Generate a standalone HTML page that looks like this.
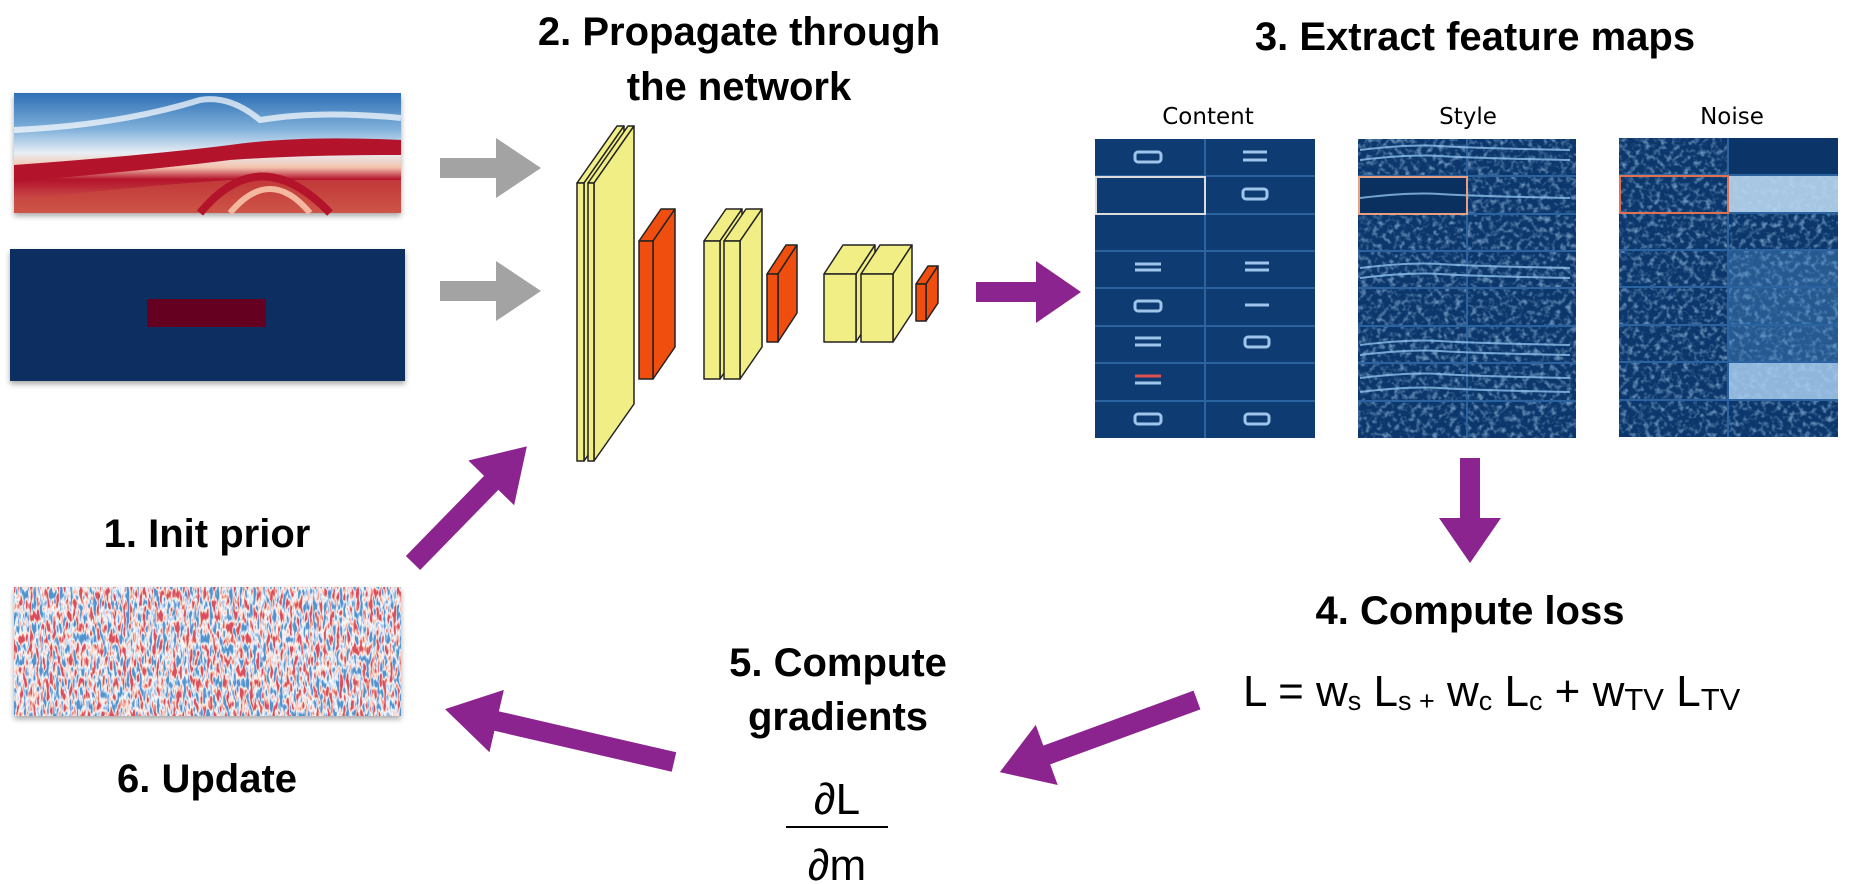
<!DOCTYPE html>
<html><head><meta charset="utf-8"><style>
html,body{margin:0;padding:0;background:#fff;width:1867px;height:884px;overflow:hidden}
svg{display:block}
.t{font-family:"Liberation Sans",sans-serif;font-weight:bold;font-size:40px;fill:#000;text-anchor:middle}
.l{font-family:"DejaVu Sans","Liberation Sans",sans-serif;font-size:23px;fill:#000;text-anchor:middle}
.f{font-family:"Liberation Sans",sans-serif;font-size:44px;fill:#000}
</style></head><body>
<svg width="1867" height="884" viewBox="0 0 1867 884" xmlns="http://www.w3.org/2000/svg">
<defs>
<linearGradient id="seis" x1="0" y1="0" x2="0" y2="1">
<stop offset="0" stop-color="#2e6fb5"/><stop offset="0.3" stop-color="#7fb0da"/><stop offset="0.5" stop-color="#e8eef5"/><stop offset="0.62" stop-color="#f3c2ad"/><stop offset="0.72" stop-color="#b3132b"/><stop offset="1" stop-color="#d9735c"/>
</linearGradient>
<filter id="nz" x="0" y="0" width="100%" height="100%">
<feTurbulence type="fractalNoise" baseFrequency="0.3 0.09" numOctaves="2" seed="3"/>
<feColorMatrix type="matrix" values="3 0 0 0 -1  3 0 0 0 -1  3 0 0 0 -1  0 0 0 0 1"/>
<feComponentTransfer>
<feFuncR type="table" tableValues="0.08 0.45 0.97 0.95 0.7"/>
<feFuncG type="table" tableValues="0.3 0.62 0.97 0.45 0.08"/>
<feFuncB type="table" tableValues="0.62 0.85 0.97 0.35 0.12"/>
</feComponentTransfer>
</filter>
<filter id="bn" x="0" y="0" width="100%" height="100%">
<feTurbulence type="fractalNoise" baseFrequency="0.18" numOctaves="2" seed="7"/>
<feColorMatrix type="matrix" values="0 0 0 0 0.45  0 0 0 0 0.68  0 0 0 0 0.92  3 0 0 0 -1.4"/>
</filter>
<filter id="sh"><feDropShadow dx="0" dy="3" stdDeviation="3" flood-opacity="0.35"/></filter>
</defs>

<text class="t" x="739" y="45">2. Propagate through</text>
<text class="t" x="739" y="100">the network</text>
<text class="t" x="1475" y="50">3. Extract feature maps</text>
<text class="t" x="207" y="547">1. Init prior</text>
<text class="t" x="1470" y="624">4. Compute loss</text>
<text class="t" x="838" y="676">5. Compute</text>
<text class="t" x="838" y="730">gradients</text>
<text class="t" x="207" y="792">6. Update</text>

<rect x="14" y="93" width="387" height="120" fill="url(#seis)" filter="url(#sh)"/>
<path d="M14 165 Q150 155 230 145 Q300 135 401 140 L401 155 Q300 155 230 160 Q150 170 14 182Z" fill="#b3132b"/>
<path d="M14 130 Q120 125 200 100 Q230 95 260 120 Q320 110 401 118" stroke="#fff" stroke-width="6" fill="none" opacity="0.7"/>
<path d="M14 200 Q150 185 230 180 L401 180 L401 213 L14 213Z" fill="#c8483e" opacity="0.7"/>
<path d="M200 213 Q260 140 330 213" stroke="#b3132b" stroke-width="8" fill="none"/>
<path d="M230 213 Q270 165 310 213" stroke="#f4b8a0" stroke-width="6" fill="none"/>

<rect x="10" y="249" width="395" height="132" fill="#0a2f60" filter="url(#sh)"/>
<rect x="147" y="299" width="119" height="28" fill="#650020"/>

<rect x="14" y="587" width="387" height="129" fill="#ddd" filter="url(#sh)"/>
<rect x="14" y="587" width="387" height="129" filter="url(#nz)"/>

<g fill="#a3a3a3">
<polygon transform="translate(440,168)" points="0,-10 56,-10 56,-30 101,0 56,30 56,10 0,10"/>
<polygon transform="translate(440,291)" points="0,-10 56,-10 56,-30 101,0 56,30 56,10 0,10"/>
</g>

<g stroke="#222" stroke-width="1.5" stroke-linejoin="round">
<polygon points="577,183 617,126 624,126 584,183" fill="#f0ee84"/>
<polygon points="584,183 624,126 624,404 584,461" fill="#f0ee84"/>
<rect x="577" y="183" width="7" height="278" fill="#f0ee84"/>
<polygon points="588,183 628,126 634,126 594,183" fill="#f0ee84"/>
<polygon points="594,183 634,126 634,404 594,461" fill="#f0ee84"/>
<rect x="588" y="183" width="6" height="278" fill="#f0ee84"/>
<polygon points="639,241 661,209 675,209 653,241" fill="#f04e0e"/>
<polygon points="653,241 675,209 675,347 653,379" fill="#f04e0e"/>
<rect x="639" y="241" width="14" height="138" fill="#f04e0e"/>
<polygon points="704,241 726,209 742,209 720,241" fill="#f0ee84"/>
<polygon points="720,241 742,209 742,347 720,379" fill="#f0ee84"/>
<rect x="704" y="241" width="16" height="138" fill="#f0ee84"/>
<polygon points="724,241 746,209 762,209 740,241" fill="#f0ee84"/>
<polygon points="740,241 762,209 762,347 740,379" fill="#f0ee84"/>
<rect x="724" y="241" width="16" height="138" fill="#f0ee84"/>
<polygon points="767,274 786,245 797,245 778,274" fill="#f04e0e"/>
<polygon points="778,274 797,245 797,313 778,342" fill="#f04e0e"/>
<rect x="767" y="274" width="11" height="68" fill="#f04e0e"/>
<polygon points="824,274 843,245 875,245 856,274" fill="#f0ee84"/>
<polygon points="856,274 875,245 875,313 856,342" fill="#f0ee84"/>
<rect x="824" y="274" width="32" height="68" fill="#f0ee84"/>
<polygon points="861,274 880,245 912,245 893,274" fill="#f0ee84"/>
<polygon points="893,274 912,245 912,313 893,342" fill="#f0ee84"/>
<rect x="861" y="274" width="32" height="68" fill="#f0ee84"/>
<polygon points="916,284 928,266 938,266 926,284" fill="#f04e0e"/>
<polygon points="926,284 938,266 938,303 926,321" fill="#f04e0e"/>
<rect x="916" y="284" width="10" height="37" fill="#f04e0e"/>
</g>

<text class="l" x="1208" y="124">Content</text>
<text class="l" x="1468" y="124">Style</text>
<text class="l" x="1732" y="124">Noise</text>

<g transform="translate(-5,0)">
<rect x="1100" y="139" width="220" height="299" fill="#0d3b72"/>
<g stroke="#2b62a0" stroke-width="2" fill="none">
<path d="M1210 139V438"/>
<path d="M1100 176H1320M1100 214H1320M1100 251H1320M1100 288H1320M1100 326H1320M1100 363H1320M1100 401H1320"/>
</g>
<g stroke="#9fc5ea" stroke-width="3" fill="none">
<rect x="1140" y="152" width="26" height="10" rx="3"/>
<path d="M1248 152h24M1248 160h24"/>
<rect x="1248" y="189" width="24" height="10" rx="3"/>
<path d="M1140 264h26M1140 270h26M1250 263h24M1250 270h24"/>
<rect x="1140" y="301" width="26" height="10" rx="3"/>
<path d="M1250 305h24M1140 338h26M1140 345h26"/>
<rect x="1250" y="337" width="24" height="10" rx="3"/>
<rect x="1140" y="414" width="26" height="10" rx="3"/>
<rect x="1250" y="414" width="24" height="10" rx="3"/>
</g>
<path d="M1140 376h26" stroke="#e05050" stroke-width="3"/>
<path d="M1140 383h26" stroke="#9fc5ea" stroke-width="3"/>
<rect x="1101" y="177" width="109" height="37" fill="none" stroke="#ddd" stroke-width="2"/>
</g>

<rect x="1358" y="139" width="218" height="299" fill="#0b376c"/>
<rect x="1358" y="139" width="218" height="299" filter="url(#bn)" opacity="0.55"/>
<rect x="1359" y="177" width="108" height="37" fill="#0a3060"/>
<g stroke="#2b62a0" stroke-width="2" fill="none">
<path d="M1467 139V438"/>
<path d="M1358 176H1576M1358 214H1576M1358 251H1576M1358 288H1576M1358 326H1576M1358 363H1576M1358 401H1576"/>
</g>
<g stroke="#8fc0ec" stroke-width="2" fill="none" opacity="0.8">
<path d="M1360 150q50 -6 80 -4t130 4M1360 160q50 -6 80 -4t130 4M1360 198q50 -6 80 -4t130 4M1360 268q50 -6 80 -4t130 4M1360 278q50 -6 80 -4t130 4M1360 345q50 -6 80 -4t130 4M1360 355q50 -6 80 -4t130 4M1360 378q50 -6 80 -4t130 4M1360 392q50 -6 80 -4t130 4"/>
</g>
<rect x="1359" y="177" width="108" height="37" fill="none" stroke="#e8a080" stroke-width="2"/>

<rect x="1619" y="138" width="219" height="299" fill="#0b376c"/>
<rect x="1619" y="138" width="219" height="299" filter="url(#bn)" opacity="0.55"/>
<rect x="1728" y="138" width="110" height="37" fill="#0b3568"/>
<rect x="1728" y="176" width="110" height="37" fill="#b8d6f0" opacity="0.9"/>
<rect x="1728" y="362" width="110" height="37" fill="#a8cdee" opacity="0.85"/>
<rect x="1728" y="250" width="110" height="112" fill="#4d8cc8" opacity="0.4"/>
<g stroke="#2b62a0" stroke-width="2" fill="none">
<path d="M1728 138V437"/>
<path d="M1619 175H1838M1619 213H1838M1619 250H1838M1619 287H1838M1619 325H1838M1619 362H1838M1619 400H1838"/>
</g>
<rect x="1620" y="176" width="108" height="37" fill="none" stroke="#e07050" stroke-width="2"/>

<g fill="#8c2490">
<polygon transform="translate(976,292)" points="0,-10 60,-10 60,-31 105,0 60,31 60,10 0,10"/>
<polygon transform="translate(1470,458) rotate(90)" points="0,-10 60,-10 60,-31 105,0 60,31 60,10 0,10"/>
<polygon transform="translate(1197,700) rotate(159.9)" points="0,-10 160,-10 160,-32 210,0 160,32 160,10 0,10"/>
<polygon transform="translate(674,762) rotate(193)" points="0,-10 182,-10 182,-32 235,0 182,32 182,10 0,10"/>
<polygon transform="translate(413,563) rotate(-45.7)" points="0,-10 112,-10 112,-32 163,0 112,32 112,10 0,10"/>
</g>

<text class="f" x="1243" y="706">L = w<tspan font-size="27" dy="4">s</tspan><tspan dy="-4"> L</tspan><tspan font-size="27" dy="4">s +</tspan><tspan dy="-4"> w</tspan><tspan font-size="27" dy="4">c</tspan><tspan dy="-4"> L</tspan><tspan font-size="27" dy="4">c</tspan><tspan dy="-4"> + w</tspan><tspan font-size="31" dy="4">TV</tspan><tspan dy="-4"> L</tspan><tspan font-size="31" dy="4">TV</tspan></text>

<text class="f" x="837" y="814" text-anchor="middle" font-size="54">∂L</text>
<line x1="786" y1="827" x2="888" y2="827" stroke="#000" stroke-width="2"/>
<text class="f" x="837" y="880" text-anchor="middle" font-size="54">∂m</text>
</svg>
</body></html>
